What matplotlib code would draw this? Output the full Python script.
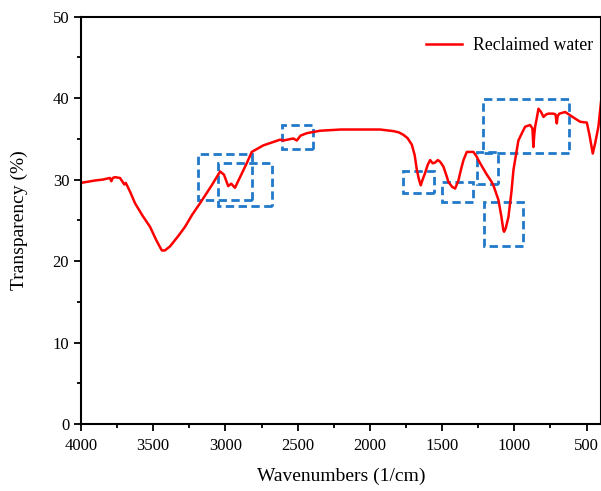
import matplotlib.pyplot as plt
from matplotlib.ticker import MultipleLocator
from matplotlib.patches import Rectangle

plt.rcParams['font.family'] = ['Liberation Serif', 'DejaVu Serif']

# FTIR spectrum of reclaimed water (wavenumber in 1/cm, transparency in %)
wavenumber = [4000, 3900, 3850, 3800, 3790, 3780, 3765, 3730, 3700, 3690,
              3660, 3626, 3575, 3522, 3480, 3453, 3440, 3420, 3384, 3330,
              3280, 3230, 3176, 3095, 3037, 3010, 2981, 2960, 2934, 2899,
              2853, 2818, 2738, 2622, 2599, 2530, 2506, 2480, 2437, 2345,
              2200, 2114, 1930, 1860, 1837, 1800, 1768, 1740, 1710, 1690,
              1675, 1660, 1648, 1635, 1618, 1600, 1583, 1565, 1548, 1530,
              1514, 1491, 1470, 1456, 1430, 1410, 1387, 1370, 1352, 1329,
              1283, 1260, 1249, 1220, 1190, 1160, 1145, 1110, 1090, 1076,
              1071, 1060, 1041, 1020, 1006, 972, 945, 925, 891, 875,
              868, 862, 856, 845, 833, 815, 798, 780, 764, 729,
              715, 706, 700, 688, 648, 614, 580, 544, 498, 480,
              457, 440, 418, 400]
transparency = [29.6, 29.9, 30.0, 30.2, 29.8, 30.2, 30.3, 30.2, 29.4, 29.6,
                28.5, 27.1, 25.6, 24.2, 22.6, 21.7, 21.3, 21.3, 21.8, 23.0,
                24.2, 25.7, 27.1, 29.3, 31.0, 30.6, 29.2, 29.5, 29.0, 30.3,
                32.0, 33.4, 34.2, 34.9, 34.8, 35.05, 34.8, 35.4, 35.7, 36.0,
                36.15, 36.15, 36.15, 36.0, 35.95, 35.8, 35.5, 35.1, 34.3, 33.0,
                31.2, 30.0, 29.3, 30.0, 30.8, 31.8, 32.4, 32.0, 32.1, 32.4,
                32.2, 31.6, 30.5, 29.7, 29.1, 28.9, 29.9, 31.2, 32.4, 33.4,
                33.4, 32.8, 32.4, 31.5, 30.6, 29.8, 29.3, 27.5, 25.5, 23.8,
                23.6, 24.0, 25.4, 28.5, 31.2, 34.8, 35.8, 36.5, 36.7, 36.3,
                34.0, 35.5, 36.5, 37.5, 38.7, 38.3, 37.7, 38.0, 38.1, 38.1,
                38.0, 36.9, 37.8, 38.1, 38.3, 37.9, 37.5, 37.1, 37.0, 35.5,
                33.2, 34.5, 36.5, 39.5]

# highlighted absorption regions: (high wavenumber, low wavenumber, bottom, top)
regions = [(3188, 2818, 27.5, 33.2),
           (3049, 2679, 26.7, 32.0),
           (2610, 2391, 33.7, 36.7),
           (1772, 1556, 28.3, 31.1),
           (1502, 1288, 27.3, 29.7),
           (1260, 1110, 29.5, 33.4),
           (1214, 621, 33.3, 39.9),
           (1209, 941, 21.9, 27.2)]

fig = plt.figure(figsize=(6.01, 4.91), dpi=100)
ax = fig.add_axes([0.1348, 0.1365, 0.8652, 0.8295])

ax.plot(wavenumber, transparency, color='red', lw=1.8, label='Reclaimed water')

# dashed boxes around the bands of interest
for hi, lo, y0, y1 in regions:
    ax.add_patch(Rectangle((lo, y0), hi - lo, y1 - y0, fill=False,
                           edgecolor='#2079c9', lw=2.0, ls=(0, (3, 1.6))))

ax.set_xlim(4000, 400)
ax.set_ylim(0, 50)
ax.xaxis.set_major_locator(MultipleLocator(500))
ax.xaxis.set_minor_locator(MultipleLocator(250))
ax.yaxis.set_major_locator(MultipleLocator(10))
ax.yaxis.set_minor_locator(MultipleLocator(5))
ax.tick_params(which='major', direction='out', length=5, width=1.3, labelsize=12)
ax.tick_params(which='minor', direction='out', length=3, width=1.3)
ax.tick_params(axis='x', which='major', pad=5)
for s in ax.spines.values():
    s.set_linewidth(1.5)

ax.set_xlabel('Wavenumbers (1/cm)', fontsize=14, labelpad=10)
ax.set_ylabel('Transparency (%)', fontsize=14, labelpad=18)

ax.legend(loc='upper right', bbox_to_anchor=(1.015, 0.99), frameon=False,
          fontsize=12.8, handlelength=2.0, handletextpad=0.6)

fig.savefig('out.png', dpi=100)
